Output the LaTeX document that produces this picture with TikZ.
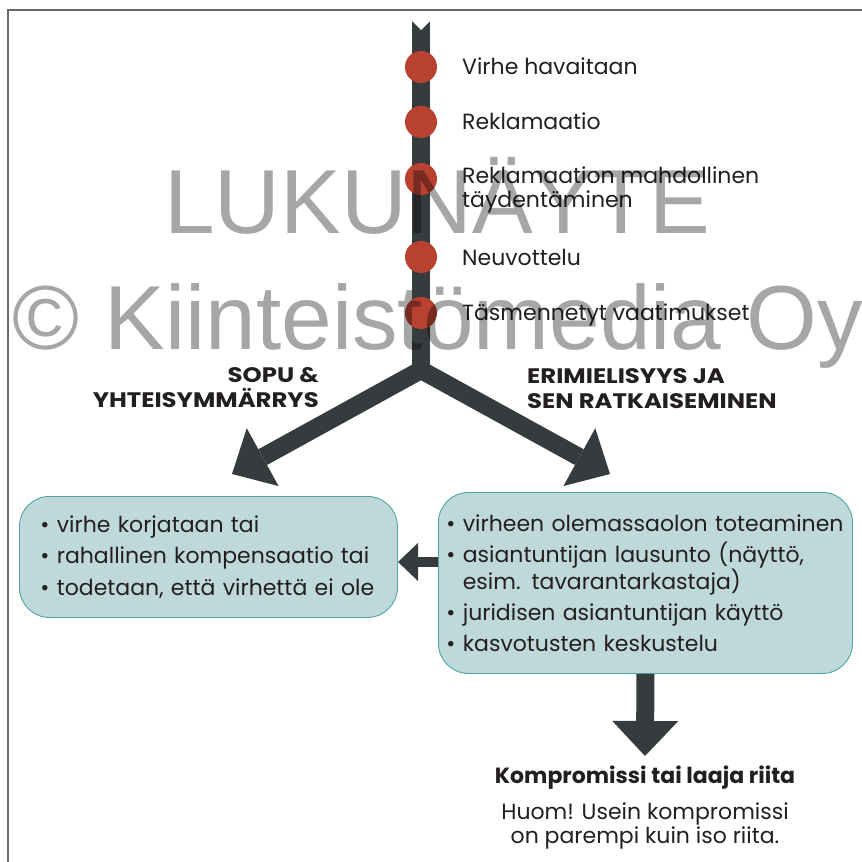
\documentclass[tikz,border=0pt]{standalone}
\usepackage{fontspec}
\setmainfont{Poppins}
\newfontfamily\headfont[FakeStretch=1.16]{Poppins}
\newfontfamily\markfont{Liberation Sans}
\usetikzlibrary{arrows.meta}

\definecolor{spinegray}{RGB}{54,60,62}
\definecolor{dotred}{RGB}{184,65,48}
\definecolor{boxfill}{RGB}{191,217,218}
\definecolor{boxline}{RGB}{80,163,163}
\definecolor{textdark}{RGB}{35,31,32}
\definecolor{framegray}{RGB}{105,105,105}

\begin{document}
\begin{tikzpicture}[x=1pt,y=-1pt,
        dot/.style={circle,fill=dotred,minimum size=32pt,inner sep=0pt},
        bigarrow/.style={draw=spinegray,line width=18pt,-{Triangle[length=35pt,width=66pt,line width=0pt]}},
        smallarrow/.style={draw=spinegray,line width=10pt,-{Triangle[length=20pt,width=38pt,line width=0pt]}},
        infobox/.style={draw=boxline,fill=boxfill,line width=0.9pt,rounded corners=30pt,
            anchor=north west,align=left,inner ysep=0pt,text=textdark,
            font=\fontsize{22}{24}\selectfont},
        steplabel/.style={anchor=base west,inner sep=0pt,align=left,text=textdark,
            font=\fontsize{22}{24}\selectfont},
        headlabel/.style={inner sep=0pt,text=textdark,font=\headfont\bfseries\fontsize{21}{25}\selectfont},
        watermark/.style={anchor=base west,inner sep=0pt,text=black,opacity=0.35,font=\markfont\fontsize{91}{91}\selectfont}]
        % Background
        \useasboundingbox (0,0) rectangle (862,862);
        \clip (0,0) rectangle (862,862);
        \draw[draw=none,fill=white] (0,0) rectangle (862,862);
        \draw[framegray,line width=1.5pt] (8,862) -- (8,10) -- (862,10);

        % Timeline
        \coordinate (top) at (421,21);
        \coordinate (split) at (421,370);
        \draw[spinegray,line width=18pt] (top) -- (split);
        \fill[white] (411,20) -- (421,30) -- (431,20) -- cycle;
        \foreach \i/\y in {1/67,2/122,3/179,4/257,5/313} {
            \node[dot] (d\i) at (421,\y) {};
        }

        % Labels
        \node[steplabel] (l1) at (462,74) {Virhe havaitaan};
        \node[steplabel] (l2) at (462,129) {Reklamaatio};
        \node[steplabel] (l3) at (462,207) {Reklamaation mahdollinen\\täydentäminen};
        \node[steplabel] (l4) at (462,265) {Neuvottelu};
        \node[steplabel] (l5) at (462,320) {Täsmennetyt vaatimukset};
        \node[headlabel,align=right,anchor=base east] (sopu) at (319,407) {SOPU \&\\YHTEISYMMÄRRYS};
        \node[headlabel,align=left,anchor=base west] (erim) at (527,408) {ERIMIELISYYS JA\\SEN RATKAISEMINEN};

        % Branches
        \coordinate (sopu tip) at (232,474);
        \coordinate (riita tip) at (610,474);
        \draw[bigarrow] (split) -- (sopu tip);
        \draw[bigarrow] (split) -- (riita tip);

        % Boxes
        \node[infobox,minimum width=378pt,minimum height=121pt,text width=336pt,inner xsep=21pt] (sopubox) at (19,496)
            {\textbullet\ virhe korjataan tai\\[7.5pt]
             \textbullet\ rahallinen kompensaatio tai\\[7.5pt]
             \textbullet\ todetaan, että virhettä ei ole};
        \node[infobox,minimum width=414pt,minimum height=181pt,text width=398pt,inner xsep=8pt] (erimbox) at (438,492)
            {\textbullet\ virheen olemassaolon toteaminen\\[7pt]
             \textbullet\ asiantuntijan lausunto (näyttö,\\
             \phantom{\textbullet\ }esim. tavarantarkastaja)\\[7pt]
             \textbullet\ juridisen asiantuntijan käyttö\\[7pt]
             \textbullet\ kasvotusten keskustelu};
        \coordinate (back tip) at (398,562);
        \draw[smallarrow] (erimbox.west |- back tip) -- (back tip);

        % Result
        \coordinate (tulos tip) at (645,756);
        \draw[bigarrow] (erimbox.south) -- (tulos tip);
        \node[anchor=base,inner sep=0pt,text=textdark,font=\bfseries\fontsize{22}{24}\selectfont] (kompromissi) at (645,783)
            {Kompromissi tai laaja riita};
        \node[anchor=base,align=center,inner sep=0pt,text=textdark,font=\fontsize{22}{22}\selectfont] (huom) at (645,843)
            {Huom! Usein kompromissi\\on parempi kuin iso riita.};

        % Watermark
        \node[watermark] (wm1) at (164,233) {LUKUNÄYTE};
        \node[watermark] (wm2) at (12,349) {© Kiinteistömedia Oy};
    \end{tikzpicture}
\end{document}
